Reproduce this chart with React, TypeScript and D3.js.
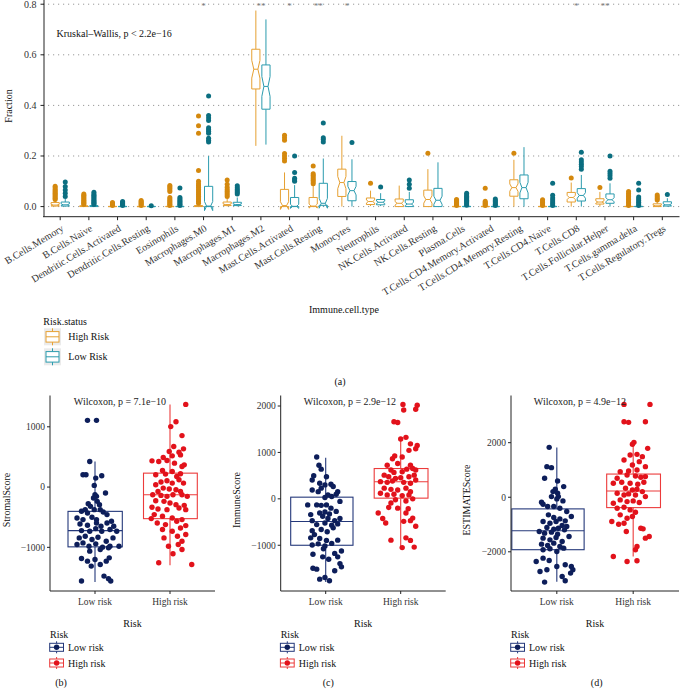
import React from 'react';
import * as d3 from 'd3';

const FONT = "'Liberation Serif', 'DejaVu Serif', serif";

// ---------- Panel (a) data ----------
const cellTypes = [
  'B.Cells.Memory', 'B.Cells.Naive', 'Dendritic.Cells.Activated', 'Dendritic.Cells.Resting',
  'Eosinophils', 'Macrophages.M0', 'Macrophages.M1', 'Macrophages.M2', 'Mast.Cells.Activated',
  'Mast.Cells.Resting', 'Monocytes', 'Neutrophils', 'NK.Cells.Activated', 'NK.Cells.Resting',
  'Plasma.Cells', 'T.Cells.CD4.Memory.Activated', 'T.Cells.CD4.Memory.Resting', 'T.Cells.CD4.Naive',
  'T.Cells.CD8', 'T.Cells.Follicular.Helper', 'T.Cells.gamma.delta', 'T.Cells.Regulatory.Tregs',
];
const riskStatus = ['High Risk', 'Low Risk'];
const significance = ['', '', '', '', '', '*', '', '**', '*', '**', '*', '', '', '', '', '', '', '', '*', '**', '', ''];
const fractionTicks = [0, 0.2, 0.4, 0.6, 0.8];
const groupSize = 50;

// [lower whisker, q1, median, q3, upper whisker]
const highRiskStats = [
  [0, 0.002, 0.006, 0.016, 0.024], [0, 0, 0.001, 0.003, 0.005], [0, 0, 0, 0.001, 0.002],
  [0, 0, 0, 0.001, 0.002], [0, 0, 0, 0.001, 0.002], [0, 0, 0.001, 0.004, 0.009],
  [0.001, 0.004, 0.008, 0.018, 0.032], [0.24, 0.465, 0.543, 0.622, 0.775], [0, 0, 0.004, 0.068, 0.135],
  [0, 0, 0.002, 0.036, 0.085], [0, 0.04, 0.095, 0.148, 0.28], [0.002, 0.008, 0.02, 0.034, 0.063],
  [0, 0, 0.013, 0.03, 0.083], [0, 0, 0.028, 0.065, 0.148], [0, 0, 0, 0.001, 0.002],
  [0, 0, 0, 0.001, 0.002], [0, 0.041, 0.075, 0.106, 0.185], [0, 0, 0, 0.001, 0.002],
  [0, 0.018, 0.036, 0.056, 0.095], [0, 0.01, 0.018, 0.031, 0.058], [0, 0, 0, 0.001, 0.002],
  [0, 0, 0.003, 0.011, 0.02],
];
const lowRiskStats = [
  [0, 0.002, 0.007, 0.018, 0.03], [0, 0, 0.001, 0.004, 0.006], [0, 0, 0, 0.001, 0.002],
  [0, 0, 0, 0.001, 0.002], [0, 0, 0, 0.001, 0.002], [0, 0, 0.002, 0.08, 0.2],
  [0.001, 0.004, 0.008, 0.017, 0.036], [0.245, 0.385, 0.475, 0.56, 0.74], [0, 0, 0.001, 0.036, 0.085],
  [0, 0.005, 0.013, 0.092, 0.19], [0, 0.023, 0.063, 0.099, 0.187], [0.002, 0.007, 0.017, 0.028, 0.053],
  [0, 0, 0.01, 0.027, 0.058], [0, 0, 0.025, 0.072, 0.175], [0, 0, 0, 0.001, 0.002],
  [0, 0, 0, 0.001, 0.002], [0, 0.031, 0.075, 0.125, 0.235], [0, 0, 0, 0.001, 0.002],
  [0, 0.022, 0.044, 0.071, 0.125], [0, 0.013, 0.027, 0.05, 0.092], [0, 0, 0, 0.001, 0.002],
  [0, 0.002, 0.007, 0.019, 0.033],
];
const highRiskOutliers = [
  [0.028, 0.033, 0.038, 0.043, 0.048, 0.053, 0.058, 0.063, 0.068, 0.074, 0.08],
  [0.008, 0.012, 0.016, 0.02, 0.025, 0.03, 0.035, 0.04, 0.045, 0.05],
  [0.004, 0.008, 0.012, 0.016],
  [0.004, 0.008, 0.012, 0.016, 0.02, 0.024],
  [0.004, 0.009, 0.014, 0.019, 0.024, 0.03, 0.036, 0.06, 0.066, 0.072, 0.078, 0.083],
  [0.013, 0.02, 0.027, 0.034, 0.041, 0.048, 0.055, 0.062, 0.069, 0.076, 0.083, 0.09, 0.1, 0.143, 0.29, 0.32, 0.358],
  [0.04, 0.047, 0.054, 0.061, 0.068, 0.076, 0.088, 0.105],
  [],
  [0.18, 0.19, 0.2, 0.21, 0.262, 0.272, 0.282],
  [0.09, 0.097, 0.104, 0.11, 0.117, 0.124, 0.13, 0.16],
  [],
  [0.092],
  [],
  [0.211],
  [0.004, 0.008, 0.012, 0.016, 0.02, 0.024, 0.028],
  [0.004, 0.008, 0.012, 0.016, 0.021, 0.072],
  [0.211],
  [0.004, 0.01, 0.016, 0.022, 0.027],
  [0.113],
  [0.075],
  [0.004, 0.01, 0.016, 0.022, 0.028, 0.034, 0.04, 0.046, 0.052, 0.06],
  [0.026, 0.032, 0.039, 0.046],
];
const lowRiskOutliers = [
  [0.04, 0.053, 0.066, 0.079, 0.097],
  [0.008, 0.012, 0.016, 0.02, 0.025, 0.03, 0.035, 0.04, 0.045, 0.05, 0.057],
  [0.004, 0.008, 0.012, 0.016, 0.02],
  [0.003],
  [0.004, 0.009, 0.014, 0.019, 0.024, 0.03, 0.036, 0.073],
  [0.255, 0.262, 0.27, 0.29, 0.298, 0.305, 0.312, 0.34, 0.35, 0.36, 0.437],
  [0.05, 0.056, 0.062, 0.068, 0.074, 0.082],
  [],
  [0.1, 0.105, 0.112, 0.135, 0.2],
  [0.255, 0.265, 0.272, 0.33],
  [0.253],
  [0.077],
  [0.072, 0.088, 0.105],
  [],
  [0.005, 0.01, 0.015, 0.02, 0.025, 0.03, 0.035, 0.04, 0.046, 0.053],
  [0.004, 0.009, 0.014, 0.019, 0.024, 0.03],
  [],
  [0.004, 0.011, 0.018, 0.026, 0.034, 0.045, 0.092],
  [0.148, 0.158, 0.167, 0.176, 0.185, 0.215],
  [0.112, 0.122, 0.131, 0.14, 0.2],
  [0.004, 0.01, 0.017, 0.024, 0.031, 0.038, 0.066, 0.092],
  [0.048],
];

// ---------- Panels (b)-(d) data ----------
const riskLevels = ['Low risk', 'High risk'];

// [value, jitter offset in category units]
const stromalLow = [
  [1107, -0.10], [1107, 0.02], [424, -0.07], [204, -0.16], [204, -0.12], [187, 0.09], [149, 0.01], [28, -0.01],
  [-99, 0.14], [-127, 0], [-154, 0.02], [-182, -0.02], [-275, -0.09], [-237, 0.03], [-320, -0.06], [-292, 0.06],
  [-402, -0.18], [-375, -0.13], [-430, -0.10], [-375, -0.01], [-375, 0.07], [-413, 0.11], [-512, -0.24], [-540, -0.16],
  [-501, -0.04], [-540, 0.02], [-457, 0.16], [-567, 0.22], [-612, -0.20], [-634, -0.10], [-595, 0.02], [-650, 0.08],
  [-595, 0.16], [-650, 0.25], [-722, -0.18], [-733, -0.07], [-689, 0.01], [-733, 0.09], [-705, 0.20], [-733, 0.29],
  [-843, -0.21], [-815, -0.13], [-871, -0.04], [-832, 0.04], [-898, 0.15], [-843, 0.24], [-953, -0.24], [-926, -0.16],
  [-981, -0.08], [-942, 0.01], [-997, 0.10], [-981, 0.20], [-981, 0.32], [-1063, -0.07], [-1036, 0.07], [-1008, 0.18],
  [-1185, -0.18], [-1229, -0.10], [-1201, 0], [-1229, 0.15], [-1174, 0.19], [-1311, -0.05], [-1284, 0.07],
  [-1477, 0.12], [-1521, 0.18], [-1559, 0.21], [-1559, -0.18],
];
const stromalHigh = [
  [1372, 0.21], [1085, 0.08], [1003, 0.01], [854, 0.16], [672, 0.05], [634, 0.18], [590, -0.01], [579, 0.12],
  [490, -0.09], [518, 0.03], [534, 0.14], [435, -0.24], [424, -0.15], [441, -0.04], [397, 0.06], [369, 0.19],
  [342, 0.16], [275, -0.10], [259, 0.03], [204, -0.19], [215, -0.06], [176, 0.09], [220, 0.14], [83, -0.12],
  [105, -0.04], [66, 0.03], [121, 0.12], [66, 0.18], [39, -0.19], [-17, -0.09], [-33, -0.01], [-44, 0.08],
  [-72, -0.16], [-72, 0.14], [-127, -0.23], [-138, -0.12], [-154, -0.04], [-127, 0.04], [-127, 0.16], [-154, 0.23],
  [-226, -0.19], [-237, -0.08], [-264, 0], [-292, 0.08], [-303, 0.19], [-336, -0.24], [-364, -0.16], [-375, -0.04],
  [-347, 0.12], [-375, 0.21], [-457, -0.21], [-485, -0.10], [-512, 0.03], [-540, 0.16], [-523, -0.25], [-595, -0.17],
  [-623, -0.06], [-567, 0.09], [-639, 0.21], [-705, -0.10], [-733, 0.03], [-678, 0.14], [-843, -0.08], [-815, 0.10],
  [-788, 0.21], [-898, 0.16], [-981, -0.02], [-953, 0.11], [-1107, 0.04], [-1036, 0.16], [-1256, -0.15], [-1284, 0.29],
];
const immuneLow = [
  [900, -0.12], [725, -0.09], [640, -0.06], [500, -0.16], [405, -0.18], [475, 0.01], [335, -0.08], [300, -0.01],
  [315, 0.07], [265, 0.10], [230, -0.06], [190, -0.18], [155, -0.10], [155, 0.16], [100, 0.14], [-55, 0.19],
  [85, 0.03], [50, 0.08], [30, -0.01], [-130, -0.24], [-130, -0.12], [-140, -0.06], [-130, 0.01], [-200, 0.07],
  [-305, -0.08], [-285, -0.01], [-325, 0.05], [-270, 0.14], [-340, -0.20], [-375, -0.04], [-425, 0.03], [-470, 0.12],
  [-425, 0.19], [-470, -0.18], [-555, -0.12], [-520, -0.01], [-570, 0.08], [-540, 0.16], [-685, -0.18], [-660, -0.06],
  [-710, 0.02], [-625, 0.10], [-770, -0.15], [-840, -0.20], [-855, -0.08], [-895, 0.01], [-890, 0.16], [-995, -0.18],
  [-970, -0.10], [-1015, -0.01], [-960, 0.08], [-1075, -0.03], [-1195, -0.17], [-1250, -0.04], [-1175, 0.12],
  [-1125, 0.21], [-1250, 0.16], [-1300, 0.04], [-1395, 0.19], [-1465, 0.21], [-1495, -0.17], [-1515, -0.12],
  [-1550, 0.12], [-1695, -0.01], [-1765, 0.05], [-1730, -0.08],
];
const immuneHigh = [
  [2035, 0.03], [2015, 0.22], [1930, 0.20], [1915, 0.04], [1660, -0.09], [1645, -0.04], [1290, 0], [1325, 0.07],
  [1185, 0.13], [1150, 0.22], [1045, 0.11], [1080, 0.20], [865, -0.11], [925, -0.08], [900, 0.02], [725, -0.18],
  [760, -0.04], [725, 0.13], [620, 0.20], [620, -0.13], [570, -0.09], [585, 0.02], [640, 0.08], [655, 0.16],
  [510, -0.22], [475, -0.16], [440, -0.07], [455, 0], [475, 0.11], [510, 0.18], [370, -0.27], [355, -0.18],
  [385, -0.11], [355, 0.04], [335, 0.13], [405, 0.20], [230, -0.22], [205, -0.13], [190, -0.04], [230, 0.07],
  [155, 0.13], [120, -0.27], [85, -0.18], [100, -0.09], [70, 0.02], [85, 0.11], [0, 0.16], [-20, -0.07],
  [-45, 0.07], [-90, -0.13], [-185, -0.16], [-200, -0.04], [-215, 0.10], [-305, -0.30], [-425, -0.24], [-305, 0.07],
  [-415, 0.16], [-520, -0.20], [-485, 0.04], [-470, 0.13], [-590, 0.20], [-890, -0.13], [-840, 0.07], [-895, 0.13],
  [-1050, 0.02], [-1040, 0.18],
];
const estimateLow = [
  [1829, -0.10], [1122, -0.13], [1085, -0.07], [695, -0.16], [598, 0.01], [390, 0.09], [293, -0.02], [207, -0.05],
  [146, 0.01], [24, 0.02], [-183, -0.20], [24, -0.07], [-61, 0], [-134, 0.08], [-256, -0.18], [-341, -0.12],
  [-341, -0.04], [-402, 0.04], [-524, 0.13], [-707, 0.19], [-646, -0.11], [-744, -0.04], [-793, 0.04], [-866, 0.11],
  [-890, -0.18], [-951, -0.09], [-890, -0.01], [-1037, 0.07], [-1073, 0.13], [-1110, -0.13], [-1171, -0.04],
  [-1134, 0.02], [-1195, 0.10], [-1256, -0.23], [-1317, -0.16], [-1280, -0.07], [-1354, 0.01], [-1439, 0.16],
  [-1500, -0.18], [-1561, -0.09], [-1476, -0.01], [-1622, 0.07], [-1720, -0.20], [-1769, -0.12], [-1683, -0.04],
  [-1805, 0.04], [-1927, -0.18], [-1890, -0.09], [-1988, 0], [-1866, 0.09], [-2232, -0.18], [-2318, -0.10],
  [-2354, -0.27], [-2537, 0], [-2476, 0.11], [-2537, 0.19], [-2659, 0.21], [-2781, 0.18], [-2659, -0.13],
  [-2720, -0.22], [-2903, 0.07], [-3111, -0.16], [-3062, 0.11],
];
const estimateHigh = [
  [3404, -0.12], [3404, 0.22], [2769, -0.12], [2745, -0.06], [2769, 0.16], [2013, 0.01], [1940, -0.01], [1793, 0.19],
  [1549, -0.04], [1573, 0.05], [1488, 0.12], [1366, -0.12], [1183, -0.01], [1305, 0.08], [1122, 0.16], [939, -0.17],
  [964, -0.06], [1000, 0.05], [817, -0.08], [781, 0.03], [732, 0.10], [756, 0.16], [695, -0.21], [549, -0.15],
  [512, -0.04], [476, 0.06], [512, -0.26], [549, 0.14], [329, -0.10], [268, -0.01], [293, 0.05], [207, 0.12],
  [146, -0.21], [85, -0.12], [122, -0.06], [85, 0.03], [24, 0.16], [-98, -0.17], [-159, -0.08], [-134, 0],
  [-195, 0.08], [-220, -0.26], [-402, -0.21], [-366, -0.12], [-463, -0.04], [-549, 0.03], [-646, -0.17],
  [-768, -0.08], [-707, -0.01], [-890, -0.28], [-988, -0.19], [-951, -0.12], [-1256, -0.09], [-1134, 0.10],
  [-1159, 0.13], [-1439, 0.21], [-1500, 0.16], [-1805, 0.05], [-1927, 0.03], [-2171, -0.26], [-2354, -0.08],
  [-2330, 0.05],
];
const stromalStats = [[-1577, -992, -722, -403, 424], [-1296, -524, -127, 231, 1372]];
const immuneStats = [[-1794, -1000, -489, 36, 885], [-1064, 15, 368, 653, 1326]];
const estimateStats = [[-3102, -1923, -1230, -427, 1825], [-2171, -380, 230, 850, 1990]];
const stromalTicks = [-1000, 0, 1000];
const immuneTicks = [-1000, 0, 1000, 2000];
const estimateTicks = [-2000, 0, 2000];

// ---------- styling ----------
const boxColorsA = { 'High Risk': '#E6A032', 'Low Risk': '#2B9BAE' };
const dotColorsA = { 'High Risk': '#D4880D', 'Low Risk': '#0B6E80' };
const lineColorsB = { 'Low risk': '#24387A', 'High risk': '#EC3B3B' };
const dotColorsB = { 'Low risk': '#0D1E5A', 'High risk': '#E2121B' };
const AXIS = '#222';
const TICKTXT = '#333';

const fmt = (v: number) => (v < 0 ? '\u2212' + Math.abs(v) : String(v));

function notchPath(cx: number, w: number, s: number[], y: (v: number) => number, n: number) {
  const [, q1, med, q3] = s;
  const notch = (1.58 * (q3 - q1)) / Math.sqrt(n);
  const nu = med + notch;
  const nl = med - notch;
  const xmin = cx - w / 2;
  const xmax = cx + w / 2;
  const ind = w * 0.25;
  const pts: [number, number][] = [
    [xmin, q3], [xmin, nu], [xmin + ind, med], [xmin, nl], [xmin, q1],
    [xmax, q1], [xmax, nl], [xmax - ind, med], [xmax, nu], [xmax, q3],
  ];
  return d3.line()(pts.map(([x, v]) => [x, y(v)] as [number, number])) + 'Z';
}

function PanelA() {
  const left = 43;
  const right = 679.5;
  const bottom = 216.7;
  const x = d3.scalePoint<string>().domain(cellTypes).range([left, right]).padding(0.6);
  const pad = (fractionTicks[fractionTicks.length - 1] - fractionTicks[0]) * 0.05;
  const y = d3.scaleLinear().domain([fractionTicks[0] - pad, fractionTicks[fractionTicks.length - 1] + pad]).range([bottom, -5.9]);
  const dodge = 5.05;
  const bw = 8.2;
  const groups = [
    { name: 'High Risk', stats: highRiskStats, outs: highRiskOutliers, off: -dodge },
    { name: 'Low Risk', stats: lowRiskStats, outs: lowRiskOutliers, off: dodge },
  ];
  return (
    <g>
      {fractionTicks.map((t) => (
        <line key={'g' + t} x1={left} x2={right} y1={y(t)} y2={y(t)} stroke="#9a9a9a" strokeWidth={1} strokeDasharray="1.2 3.8" />
      ))}
      {cellTypes.map((c, i) => (
        <g key={c}>
          {groups.map((g) => {
            const cx = (x(c) as number) + g.off;
            const s = g.stats[i];
            const col = (boxColorsA as any)[g.name];
            return (
              <g key={g.name}>
                <line x1={cx} x2={cx} y1={y(s[3])} y2={y(s[4])} stroke={col} strokeWidth={1} />
                <line x1={cx} x2={cx} y1={y(s[1])} y2={y(s[0])} stroke={col} strokeWidth={1} />
                <path d={notchPath(cx, bw, s, y, groupSize)} fill="#fff" stroke={col} strokeWidth={1} />
                <line x1={cx - bw / 4} x2={cx + bw / 4} y1={y(s[2])} y2={y(s[2])} stroke={col} strokeWidth={1} />
                {g.outs[i].map((v, k) => (
                  <circle key={k} cx={cx} cy={y(v)} r={2.5} fill={(dotColorsA as any)[g.name]} />
                ))}
              </g>
            );
          })}
          {significance[i] && (
            <text x={x(c)} y={8.8} fontSize={9} fill="#777" textAnchor="middle">{significance[i]}</text>
          )}
        </g>
      ))}
      {/* axes */}
      <line x1={left + 1} x2={left + 1} y1={0} y2={bottom} stroke={AXIS} strokeWidth={1} />
      <line x1={left} x2={right} y1={bottom} y2={bottom} stroke={AXIS} strokeWidth={1} />
      {fractionTicks.map((t) => (
        <g key={'t' + t}>
          <line x1={left - 2.5} x2={left + 1} y1={y(t)} y2={y(t)} stroke={AXIS} />
          <text x={36.5} y={y(t)} dy="0.35em" fontSize={10} fill={TICKTXT} textAnchor="end">{t.toFixed(1)}</text>
        </g>
      ))}
      {cellTypes.map((c) => (
        <g key={'xl' + c}>
          <line x1={x(c)} x2={x(c)} y1={bottom} y2={bottom + 3.5} stroke={AXIS} />
          <text transform={`translate(${(x(c) as number) + 0.5},${bottom + 7.5}) rotate(-31)`} dy="0.7em" fontSize={10} fill={TICKTXT} textAnchor="end">{c}</text>
        </g>
      ))}
      <text transform="translate(12,106) rotate(-90)" fontSize={10} textAnchor="middle" fill="#111">Fraction</text>
      <text x={56.5} y={36.5} fontSize={10} fill="#111">Kruskal–Wallis, p &lt; 2.2e−16</text>
      <text x={344} y={312.5} fontSize={10} textAnchor="middle" fill="#111">Immune.cell.type</text>
      {/* legend */}
      <text x={43.3} y={325} fontSize={10} fill="#111">Risk.status</text>
      {riskStatus.map((r, k) => {
        const ky = 328.3 + k * 20;
        const col = (boxColorsA as any)[r];
        return (
          <g key={r}>
            <rect x={44} y={ky} width={17} height={17} fill="#EBEBEB" />
            <line x1={52.5} x2={52.5} y1={ky} y2={ky + 17} stroke={col} />
            <rect x={46} y={ky + 3.3} width={13} height={10.5} fill="#fff" stroke={col} />
            <line x1={46} x2={59} y1={ky + 8.5} y2={ky + 8.5} stroke={col} />
            <text x={68.3} y={ky + 12} fontSize={10} fill="#111">{r}</text>
          </g>
        );
      })}
      <text x={340} y={384.5} fontSize={10} textAnchor="middle" fill="#111">(a)</text>
    </g>
  );
}

const scorePanels = [
  { id: 'b', left: 50, right: 215, ylab: 'StromalScore', ylabX: 9.5, title: 'Wilcoxon, p = 7.1e−10', titleX: 120,
    pts: [stromalLow, stromalHigh], stats: stromalStats, ticks: stromalTicks, lowLeft: 27, letterX: 61 },
  { id: 'c', left: 280.7, right: 445.7, ylab: 'ImmuneScore', ylabX: 240, title: 'Wilcoxon, p = 2.9e−12', titleX: 350,
    pts: [immuneLow, immuneHigh], stats: immuneStats, ticks: immuneTicks, lowLeft: 35, letterX: 328.3 },
  { id: 'd', left: 511, right: 679, ylab: 'ESTIMATEScore', ylabX: 469.5, title: 'Wilcoxon, p = 4.9e−12', titleX: 580,
    pts: [estimateLow, estimateHigh], stats: estimateStats, ticks: estimateTicks, lowLeft: 45, letterX: 596.7 },
];

function ScorePanel(p: any) {
  const bottom = 591;
  const top = 395.5;
  const x = d3.scalePoint<string>().domain(riskLevels).range([p.left, p.right]).padding(0.6);
  const step = x.step();
  const all: number[] = [];
  p.pts.forEach((arr: number[][]) => arr.forEach((d) => all.push(d[0])));
  p.stats.forEach((s: number[]) => s.forEach((v) => all.push(v)));
  const [mn, mx] = d3.extent(all) as [number, number];
  const e = (mx - mn) * 0.05;
  const y = d3.scaleLinear().domain([mn - e, mx + e]).range([bottom, top]);
  const mid = (p.left + p.right) / 2;
  return (
    <g>
      {riskLevels.map((r, k) => {
        const cx = x(r) as number;
        const s = p.stats[k];
        const l = k === 0 ? p.lowLeft : 26.5;
        const rr = 27.3;
        const lc = (lineColorsB as any)[r];
        return (
          <g key={r}>
            <line x1={cx} x2={cx} y1={y(s[3])} y2={y(s[4])} stroke={lc} strokeWidth={1.1} />
            <line x1={cx} x2={cx} y1={y(s[1])} y2={y(s[0])} stroke={lc} strokeWidth={1.1} />
            <rect x={cx - l} y={y(s[3])} width={l + rr} height={y(s[1]) - y(s[3])} fill="#fff" stroke={lc} strokeWidth={1.1} />
            <line x1={cx - l} x2={cx + rr} y1={y(s[2])} y2={y(s[2])} stroke={lc} strokeWidth={1.1} />
          </g>
        );
      })}
      {riskLevels.map((r, k) => (
        <g key={'p' + r}>
          {p.pts[k].map((d: number[], i: number) => (
            <circle key={i} cx={(x(r) as number) + d[1] * step} cy={y(d[0])} r={2.7} fill={(dotColorsB as any)[r]} />
          ))}
        </g>
      ))}
      <line x1={p.left} x2={p.left} y1={top} y2={bottom} stroke={AXIS} strokeWidth={1} />
      <line x1={p.left} x2={p.right} y1={bottom} y2={bottom} stroke={AXIS} strokeWidth={1} />
      {p.ticks.map((t: number) => (
        <g key={t}>
          <line x1={p.left - 3} x2={p.left} y1={y(t)} y2={y(t)} stroke={AXIS} />
          <text x={p.left - 5} y={y(t)} dy="0.35em" fontSize={9.5} fill={TICKTXT} textAnchor="end">{fmt(t)}</text>
        </g>
      ))}
      {riskLevels.map((r) => (
        <g key={'x' + r}>
          <line x1={x(r)} x2={x(r)} y1={bottom} y2={bottom + 3} stroke={AXIS} />
          <text x={x(r)} y={605} fontSize={9.5} fill={TICKTXT} textAnchor="middle">{r}</text>
        </g>
      ))}
      <text x={p.titleX} y={404.5} fontSize={10} textAnchor="middle" fill="#222">{p.title}</text>
      <text transform={`translate(${p.ylabX},500) rotate(-90)`} fontSize={10} textAnchor="middle" fill="#111">{p.ylab}</text>
      <text x={mid} y={626.5} fontSize={10} textAnchor="middle" fill="#111">Risk</text>
      <text x={p.left} y={637.8} fontSize={10} fill="#111">Risk</text>
      {riskLevels.map((r, k) => {
        const cy = 647.3 + k * 15.7;
        const kx = p.left + 6.6;
        const lc = (lineColorsB as any)[r];
        return (
          <g key={'lg' + r}>
            <line x1={kx} x2={kx} y1={cy - 6} y2={cy + 6} stroke={lc} />
            <rect x={p.left - 0.3} y={cy - 4} width={13.8} height={8} fill="#fff" stroke={lc} />
            <line x1={p.left - 0.3} x2={p.left + 13.5} y1={cy} y2={cy} stroke={lc} />
            <circle cx={kx} cy={cy} r={2.7} fill={(dotColorsB as any)[r]} />
            <text x={p.left + 18} y={cy + 3.5} fontSize={10} fill="#111">{r}</text>
          </g>
        );
      })}
      <text x={p.letterX} y={685.5} fontSize={10} textAnchor="middle" fill="#111">({p.id})</text>
    </g>
  );
}

export default function App() {
  return (
    <svg width={680} height={690} style={{ position: 'absolute', left: 0, top: 0, background: '#fff' }} fontFamily={FONT}>
      <rect width={680} height={690} fill="#fff" />
      <PanelA />
      {scorePanels.map((p) => (
        <ScorePanel key={p.id} {...p} />
      ))}
    </svg>
  );
}
